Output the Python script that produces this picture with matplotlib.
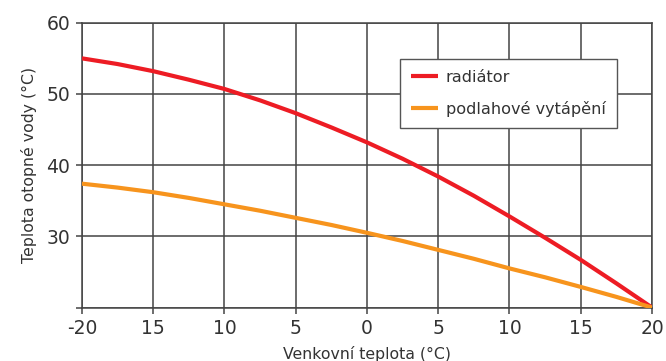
import matplotlib
matplotlib.use('Agg')
import matplotlib.pyplot as plt

# outside temperature (°C) and flow water temperature (°C)
outdoor = [-20, -17.5, -15, -12.5, -10, -7.5, -5, -2.5, 0,
           2.5, 5, 7.5, 10, 12.5, 15, 17.5, 20]
radiator = [55.0, 54.2, 53.2, 52.0, 50.7, 49.1, 47.3, 45.3, 43.2,
            40.9, 38.4, 35.7, 32.8, 29.8, 26.7, 23.4, 20.0]
floor_heating = [37.4, 36.85, 36.2, 35.4, 34.5, 33.6, 32.6, 31.6, 30.5,
                 29.35, 28.1, 26.85, 25.5, 24.25, 22.9, 21.5, 20.0]

x_ticks = [-20, -15, -10, -5, 0, 5, 10, 15, 20]
x_tick_labels = ["-20", "15", "10", "5", "0", "5", "10", "15", "20"]
y_ticks = [20, 30, 40, 50, 60]
y_tick_labels = ["", "30", "40", "50", "60"]

TEXT = "#333333"
GRID = "#444444"

plt.rcParams['font.family'] = ['DejaVu Sans']

fig = plt.figure(figsize=(6.66, 3.61), dpi=100)
ax = fig.add_axes([0.123, 0.148, 0.856, 0.789])

ax.plot(outdoor, radiator, color="#ED1C24", lw=3, label="radiátor",
        solid_capstyle='butt', zorder=3)
ax.plot(outdoor, floor_heating, color="#F7941D", lw=3, label="podlahové vytápění",
        solid_capstyle='butt', zorder=3)

ax.set_xlim(-20, 20)
ax.set_ylim(20, 60)
ax.set_xticks(x_ticks)
ax.set_xticklabels(x_tick_labels)
ax.set_yticks(y_ticks)
ax.set_yticklabels(y_tick_labels)

ax.grid(True, color=GRID, lw=1.1)
for s in ax.spines.values():
    s.set_color(GRID)
    s.set_linewidth(1.1)

ax.tick_params(axis='both', length=4.3, width=1.1, color=GRID, pad=4,
               labelsize=13.5, labelcolor=TEXT)

ax.set_xlabel("Venkovní teplota (°C)", fontsize=11.3, color=TEXT, labelpad=6)
ax.set_ylabel("Teplota otopné vody (°C)", fontsize=11.3, color=TEXT, labelpad=7)

leg = ax.legend(loc='upper right', bbox_to_anchor=(0.938, 0.874),
                borderaxespad=0, fontsize=11.6, frameon=True, fancybox=False,
                handlelength=1.7, handletextpad=0.44, labelspacing=1.0,
                borderpad=0.7, labelcolor=TEXT)
leg.get_frame().set_edgecolor("#555555")
leg.get_frame().set_linewidth(1.0)
leg.get_frame().set_alpha(1)

fig.savefig("out.png", dpi=100)
